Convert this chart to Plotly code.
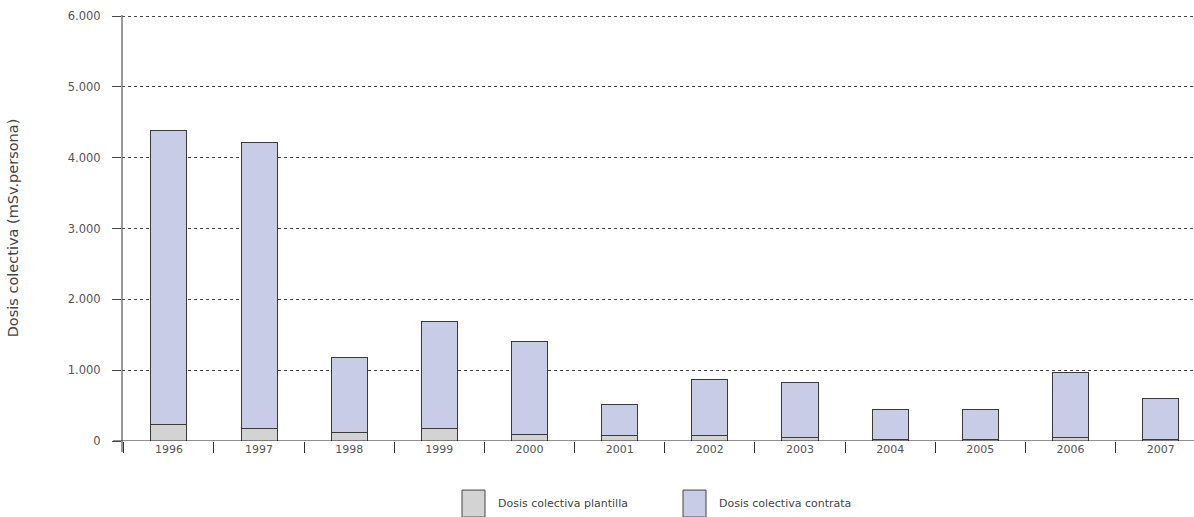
import plotly.graph_objects as go

years = ["1996", "1997", "1998", "1999", "2000", "2001", "2002", "2003", "2004", "2005", "2006", "2007"]
plantilla = [240, 174, 123, 174, 89, 75, 75, 52, 28, 28, 47, 18]
contrata = [4149, 4037, 1055, 1514, 1321, 444, 788, 773, 420, 420, 925, 576]
y_ticks = [0, 1000, 2000, 3000, 4000, 5000, 6000]
y_tick_text = ["0", "1.000", "2.000", "3.000", "4.000", "5.000", "6.000"]
series_names = ["Dosis colectiva plantilla", "Dosis colectiva contrata"]
series_colors = ["#d3d3d3", "#c8cce6"]

W, H = 1194, 517
ML, MR, MB = 122, 0, 76
Y_TOP = 6015
ph = (441 - 16.5) * Y_TOP / 6000
MT = H - MB - ph
pw = W - ML - MR

fig = go.Figure()
for name, vals, col in zip(series_names, [plantilla, contrata], series_colors):
    fig.add_trace(go.Bar(
        x=years, y=vals, name=name,
        marker=dict(color=col, line=dict(color="#3a3a3a", width=1)),
        showlegend=False,
    ))

font_fam = "DejaVu Sans, Verdana, sans-serif"

fig.update_layout(
    width=W, height=H,
    margin=dict(l=ML, r=MR, t=MT, b=MB, pad=0),
    barmode="stack", bargap=0.6,
    plot_bgcolor="white", paper_bgcolor="white",
    font=dict(family=font_fam, size=11, color="#555"),
    xaxis=dict(
        type="category", range=[-0.52, 11.37],
        tickson="boundaries", ticks="outside", ticklen=11, tickcolor="#333", tickwidth=1,
        showgrid=False, showline=False, zeroline=False,
        tickfont=dict(size=11, color="#555"),
    ),
    yaxis=dict(
        range=[0, Y_TOP], tickvals=y_ticks, ticktext=y_tick_text,
        ticks="outside", ticklen=9, tickcolor="#444", tickwidth=1,
        ticklabelstandoff=9,
        showgrid=True, gridcolor="#444", griddash="dot", gridwidth=1,
        showline=False, zeroline=False,
        tickfont=dict(size=11.5, color="#555"),
        title=dict(text="Dosis colectiva (mSv.persona)", font=dict(size=14.5, color="#444"), standoff=45),
    ),
)

# axis lines
fig.add_shape(type="line", xref="paper", yref="paper",
              x0=0, x1=0, y0=-(452 - 441) / ph, y1=1,
              line=dict(color="#777", width=1.5))
fig.add_shape(type="line", xref="paper", yref="y",
              x0=-(ML - 113) / pw, x1=1, y0=0, y1=0,
              line=dict(color="#222", width=1.2))

# legend drawn manually
leg_x = [462, 683]
for i, (name, col) in enumerate(zip(series_names, series_colors)):
    x0 = (leg_x[i] - ML) / pw
    x1 = (leg_x[i] + 23 - ML) / pw
    y0 = -(517 - 441) / ph
    y1 = -(490 - 441) / ph
    fig.add_shape(type="rect", xref="paper", yref="paper",
                  x0=x0, x1=x1, y0=y0, y1=y1,
                  fillcolor=col, line=dict(color="#444", width=1))
    fig.add_annotation(xref="paper", yref="paper",
                       x=(leg_x[i] + 34 - ML) / pw, y=-(503 - 441) / ph,
                       text=name, showarrow=False, xanchor="left", yanchor="middle",
                       font=dict(size=11, color="#444"))

fig.write_html("out.html", config={"displayModeBar": False},
               post_script="document.body.style.margin='0';document.body.style.overflow='hidden';")
